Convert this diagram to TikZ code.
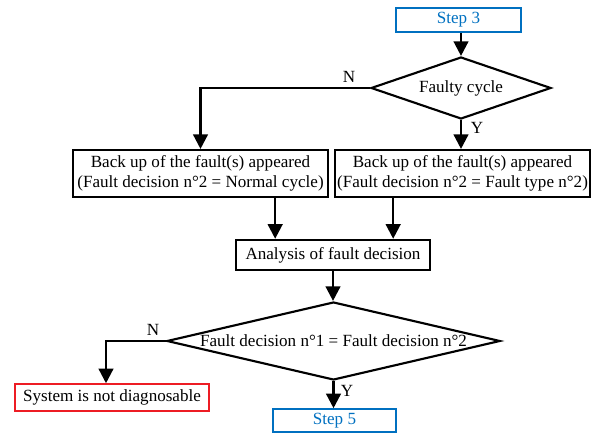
\documentclass[tikz,border=0pt]{standalone}
\usepackage{fontspec}
\setmainfont{Liberation Serif}
\usetikzlibrary{positioning, calc}
\usetikzlibrary{arrows.meta, shapes.geometric}
\definecolor{stepblue}{RGB}{0,112,192}
\definecolor{stopred}{RGB}{237,28,36}

\begin{document}
\begin{tikzpicture}[x=0.75pt, y=-0.75pt, font=\fontsize{12.8}{15}\selectfont,
  box/.style={draw, rectangle, line width=1.8pt, inner sep=0pt, align=center},
  stepbox/.style={box, draw=stepblue, text=stepblue, line width=1.4pt},
  stopbox/.style={box, draw=stopred, line width=1.4pt},
  decision/.style={draw, diamond, line width=1.6pt, inner sep=0pt},
  flow/.style={line width=1.8pt, -{Triangle[width=11pt,length=11pt]}}]
\useasboundingbox (0,0) rectangle (595,434);

\draw (458.5,20) node[stepbox, minimum width=93.75pt, minimum height=18pt](s3){Step 3}
      (461,88) node[decision, minimum width=135pt, minimum height=46.5pt, label=center:{Faulty cycle}](d1){}
      (200.5,173.5) node[box, minimum width=191pt, minimum height=35pt](b1){Back up of the fault(s) appeared\\(Fault decision n°2 = Normal cycle)}
      (462.5,173.5) node[box, minimum width=191pt, minimum height=35pt](b2){Back up of the fault(s) appeared\\(Fault decision n°2 = Fault type n°2)};
\draw (333,255) node[box, minimum width=145.5pt, minimum height=22.5pt](an){Analysis of fault decision}
      (333.5,341) node[decision, minimum width=250pt, minimum height=58.5pt, label=center:{Fault decision n°1 = Fault decision n°2}](d2){}
      (112,397.5) node[stopbox, minimum width=145.5pt, minimum height=20pt](nd){System is not diagnosable}
      (334.5,420.5) node[stepbox, minimum width=92pt, minimum height=17pt](s5){Step 5};

% branch labels
\draw (349,77) node(n1){N}  (477,128) node(y1){Y}
      (153,330) node(n2){N} (347,391) node(y2){Y};

\coordinate (b1s) at ([xshift=56pt]b1.south);
\coordinate (b2s) at ([xshift=-52pt]b2.south);
\coordinate (ndn) at ([xshift=-4.5pt]nd.north);

\draw[flow] (d1.north |- s3.south) -- (d1.north);
\draw[flow] (d1.west) -| (b1.north);
\draw[flow] (d1.south) -- (d1.south |- b2.north);
\draw[flow] (b1s) -- (b1s |- an.north);
\draw[flow] (b2s) -- (b2s |- an.north);
\draw[flow] (an.south) -- (an.south |- d2.north);
\draw[flow] (d2.west) -| (ndn);
\draw[flow] (d2.south) -- (d2.south |- s5.north);
\end{tikzpicture}
\end{document}
